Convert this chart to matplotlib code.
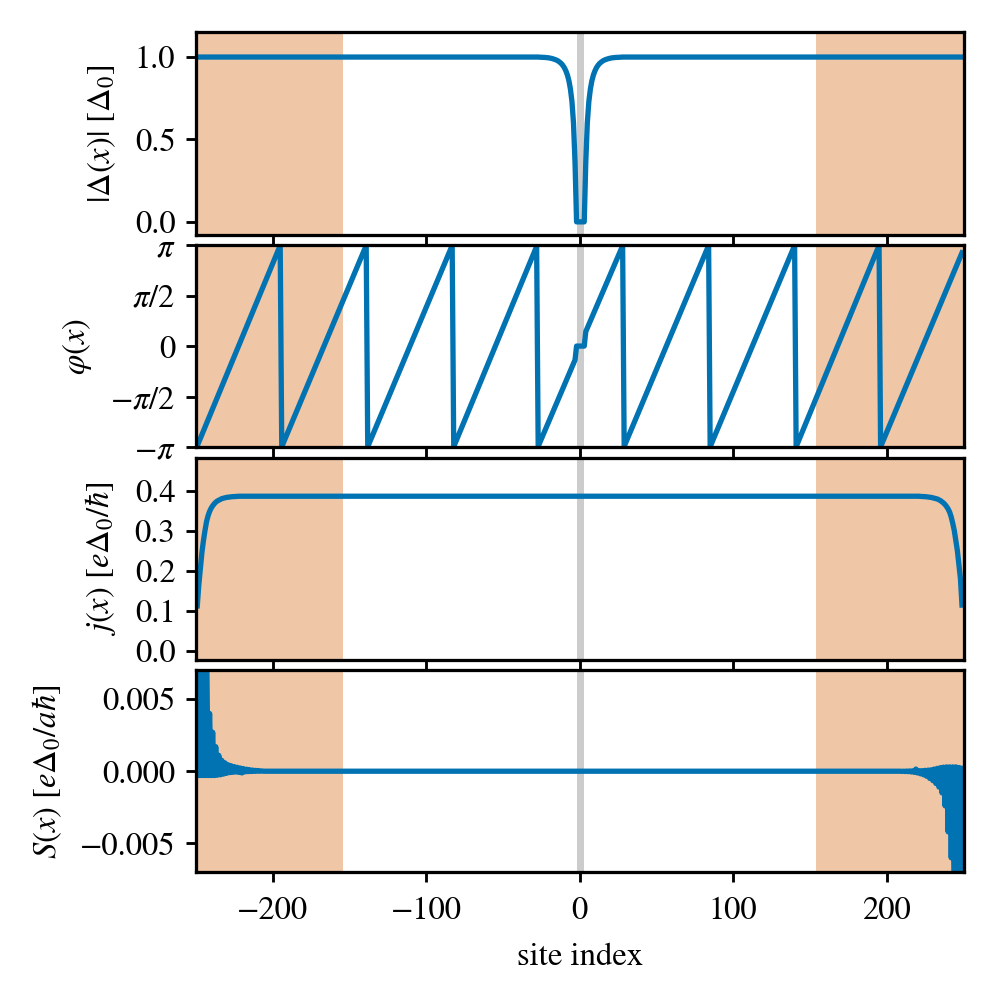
import numpy as np
import matplotlib
matplotlib.use("Agg")
import matplotlib.pyplot as plt

# ---------------- data ----------------
site_min, site_max = -249, 249
lead_edges = [-154, 154]            # shaded lead regions start at these sites
junction = [-1.7, 3.1]              # grey junction band

# |Delta(x)| near the junction (sites -26 .. 27), 1.0 elsewhere
delta_core_start = -26
delta_core = [0.999, 0.999, 0.998, 0.998, 0.997, 0.996, 0.995, 0.993, 0.991,
              0.988, 0.985, 0.981, 0.976, 0.969, 0.961, 0.950, 0.936, 0.917,
              0.892, 0.857, 0.806, 0.730, 0.600, 0.360,
              0.0, 0.0, 0.0, 0.0, 0.0, 0.0,
              0.360, 0.600, 0.730, 0.806, 0.857, 0.892, 0.917, 0.936, 0.950,
              0.961, 0.969, 0.976, 0.981, 0.985, 0.988, 0.991, 0.993, 0.995,
              0.996, 0.997, 0.998, 0.998, 0.999, 0.999]
delta_bulk = 1.0

# phase phi(x): vertices of the sawtooth
phi_x = [-249, -195, -194, -139, -138, -83, -82, -28, -27, -3, -2, 3, 4,
         28, 29, 84, 85, 140, 141, 195, 196, 249]
phi_y = [-3.10, 3.13, -3.13, 3.13, -3.13, 3.13, -3.13, 3.10, -3.12, -0.43,
         0.0, 0.0, 0.45, 3.12, -3.12, 3.13, -3.13, 3.13, -3.13, 3.13, -3.13,
         2.90]

# current j(x): edges (sites -249..-220 and 220..249) and plateau
j_left = [0.112, 0.165, 0.205, 0.245, 0.275, 0.300, 0.322, 0.337, 0.348,
          0.356, 0.362, 0.367, 0.371, 0.374, 0.376, 0.378, 0.380, 0.381,
          0.382, 0.383, 0.3835, 0.384, 0.3845, 0.385, 0.385, 0.3855, 0.3855,
          0.386, 0.386, 0.386]
j_right = [0.386, 0.386, 0.3855, 0.3855, 0.385, 0.385, 0.3845, 0.384, 0.3835,
           0.383, 0.382, 0.381, 0.380, 0.379, 0.377, 0.375, 0.372, 0.369,
           0.365, 0.360, 0.354, 0.346, 0.334, 0.318, 0.300, 0.275, 0.250,
           0.215, 0.180, 0.114]
j_plateau = 0.386

# source term S(x): edges (sites -249..-206 and 206..249), zero in between
S_left = [0.0125, -0.0003, 0.0115, -0.0003, 0.0105, -0.0003, 0.0095, -0.0003,
          0.0040, -0.0003, 0.0027, -0.0003, 0.0017, -0.00028, 0.0011, -0.00025,
          0.00075, -0.0002, 0.00058, -0.00015, 0.00045, -0.0001, 0.00038,
          -0.00008, 0.00032, -0.00006, 0.00027, -0.00008, 0.00022, -0.00012,
          0.00018, -0.00005, 0.00014, -0.00003, 0.00011, -0.00002, 0.00008,
          -0.00001, 0.00006, 0.0, 0.00004, 0.0, 0.00002, 0.0]
S_right = [0.0, 0.0, 0.0, 0.0, -0.00001, 0.0, -0.00002, 0.00001, -0.00003,
           0.00002, -0.00005, 0.00003, -0.00008, 0.00015, -0.00012, 0.00004,
           -0.00018, 0.00004, -0.00025, 0.00006, -0.00035, 0.00008, -0.0005,
           0.0001, -0.00065, 0.00015, -0.00085, 0.0002, -0.0011, 0.00025,
           -0.0015, 0.00028, -0.0024, 0.0003, -0.0042, 0.0003, -0.0060, 0.0003,
           -0.0095, 0.0003, -0.0115, 0.00025, -0.0125, 0.0002]

xticks = [-200, -100, 0, 100, 200]
ylabels = [r"$|\Delta(x)|\ [\Delta_0]$", r"$\varphi(x)$",
           r"$j(x)\ [e\Delta_0/\hbar]$", r"$S(x)\ [e\Delta_0/a\hbar]$"]
phi_ticks = [-np.pi, -np.pi / 2, 0, np.pi / 2, np.pi]
phi_ticklabels = [r"$-\pi$", r"$-\pi/2$", "0", r"$\pi/2$", r"$\pi$"]

# ---------------- assemble series ----------------
sites = np.arange(site_min, site_max + 1)
n = len(sites)

delta = np.full(n, delta_bulk)
i0 = delta_core_start - site_min
delta[i0:i0 + len(delta_core)] = delta_core

j = np.full(n, j_plateau)
j[:len(j_left)] = j_left
j[n - len(j_right):] = j_right

S = np.zeros(n)
S[:len(S_left)] = S_left
S[n - len(S_right):] = S_right

# ---------------- style ----------------
plt.rcParams.update({
    "font.family": ["STIXGeneral", "Liberation Serif", "DejaVu Serif"],
    "mathtext.fontset": "stix",
    "font.size": 8.0,
    "axes.linewidth": 0.8,
    "xtick.major.size": 2.5,
    "ytick.major.size": 2.5,
    "xtick.major.width": 0.7,
    "ytick.major.width": 0.7,
    "ytick.major.pad": 2.5,
})

line_c = "#0173b2"
shade_c = "#efc6a6"
grey_c = "#cccccc"
lw = 1.3

fig, axes = plt.subplots(4, 1, sharex=True, figsize=(3.4, 3.4), dpi=293.3,
                         gridspec_kw=dict(hspace=0.052))
fig.subplots_adjust(left=0.1963, right=0.9662, top=0.9672, bottom=0.1251)

for ax in axes:
    ax.axvspan(-250, lead_edges[0], color=shade_c, lw=0, zorder=0)
    ax.axvspan(lead_edges[1], 250, color=shade_c, lw=0, zorder=0)
    ax.axvspan(junction[0], junction[1], color=grey_c, lw=0, zorder=0.5)

axes[0].plot(sites, delta, color=line_c, lw=lw)
axes[1].plot(phi_x, phi_y, color=line_c, lw=lw)
axes[2].plot(sites, j, color=line_c, lw=lw)
axes[3].plot(sites, S, color=line_c, lw=lw)

axes[0].set_ylim(-0.077, 1.149)
axes[0].set_yticks([0.0, 0.5, 1.0])
axes[0].set_yticklabels(["0.0", "0.5", "1.0"])

axes[1].set_ylim(-np.pi, np.pi)
axes[1].set_yticks(phi_ticks)
axes[1].set_yticklabels(phi_ticklabels)

axes[2].set_ylim(-0.0225, 0.4825)
axes[2].set_yticks([0.0, 0.1, 0.2, 0.3, 0.4])
axes[2].set_yticklabels(["0.0", "0.1", "0.2", "0.3", "0.4"])

axes[3].set_ylim(-0.007, 0.007)
axes[3].set_yticks([-0.005, 0.0, 0.005])
axes[3].set_yticklabels(["\u22120.005", "0.000", "0.005"])

for ax, lab in zip(axes, ylabels):
    ax.set_ylabel(lab)

axes[-1].set_xlim(-250, 250)
axes[-1].set_xticks(xticks)
axes[-1].set_xticklabels([("\u2212" if t < 0 else "") + str(abs(t)) for t in xticks])
axes[-1].set_xlabel("site index")

fig.savefig("out.png", dpi=293.3)
